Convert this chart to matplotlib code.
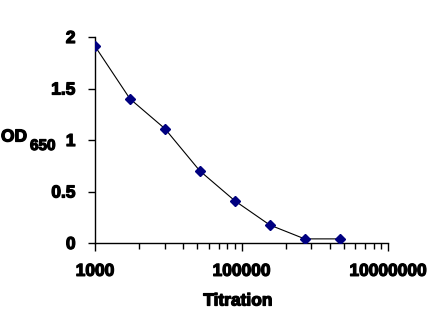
import numpy as np
import matplotlib.pyplot as plt
import matplotlib.patheffects as pe
from matplotlib.ticker import FixedLocator, NullFormatter

# 3-fold dilution series and measured absorbance
titration = [1000, 3000, 9000, 27000, 81000, 243000, 729000, 2187000]
od650 = [1.91, 1.40, 1.11, 0.70, 0.41, 0.175, 0.04, 0.04]

x_major = [1000, 100000, 10000000]
x_labels = ["1000", "100000", "10000000"]
y_major = [0, 0.5, 1, 1.5, 2]
y_labels = ["0", "0.5", "1", "1.5", "2"]

plt.rcParams["font.family"] = ["Liberation Sans", "DejaVu Sans"]
plt.rcParams["font.weight"] = "bold"

# heavier strokes on the text
heavy = [pe.withStroke(linewidth=0.9, foreground="black")]

fig = plt.figure(figsize=(4.46, 3.35), dpi=100)
ax = fig.add_axes([95 / 446, 1 - 243 / 335, 293 / 446, 206 / 335])

ax.plot(titration, od650, color="black", lw=0.8, zorder=2)
ax.plot(titration, od650, ls="none", marker="D", ms=5.5,
        color="#000080", mec="#000080", zorder=3)

ax.set_xscale("log")
ax.set_xlim(1000, 10000000)
ax.set_ylim(0, 2)

# minor ticks spaced like a log10 decade inside each labelled interval
minor = [base * k ** 2 for base in (1000, 100000) for k in range(2, 10)]
ax.xaxis.set_major_locator(FixedLocator(x_major))
ax.xaxis.set_minor_locator(FixedLocator(minor))
ax.xaxis.set_minor_formatter(NullFormatter())
ax.set_xticks(x_major, x_labels)
ax.set_yticks(y_major, y_labels)

ax.tick_params(axis="x", which="major", length=6, width=1, pad=9,
               labelsize=12.5, direction="out")
ax.tick_params(axis="x", which="minor", length=4, width=1, direction="out")
ax.tick_params(axis="y", length=5, width=1, pad=9, labelsize=12.5,
               direction="out")
for lab in ax.get_xticklabels() + ax.get_yticklabels():
    lab.set_fontweight("bold")
    lab.set_path_effects(heavy)

for side in ("top", "right"):
    ax.spines[side].set_visible(False)
for side in ("left", "bottom"):
    ax.spines[side].set_linewidth(1)
    ax.spines[side].set_color("black")

fig.text(238 / 446, 1 - 301 / 335, "Titration", ha="center", va="center",
         fontsize=12.5, fontweight="bold", path_effects=heavy)
fig.text(1 / 446, 1 - 137 / 335, "OD", ha="left", va="center",
         fontsize=12.5, fontweight="bold", path_effects=heavy)
fig.text(30 / 446, 1 - 146 / 335, "650", ha="left", va="center",
         fontsize=11, fontweight="bold", path_effects=heavy)

fig.savefig("out.png", dpi=100)
